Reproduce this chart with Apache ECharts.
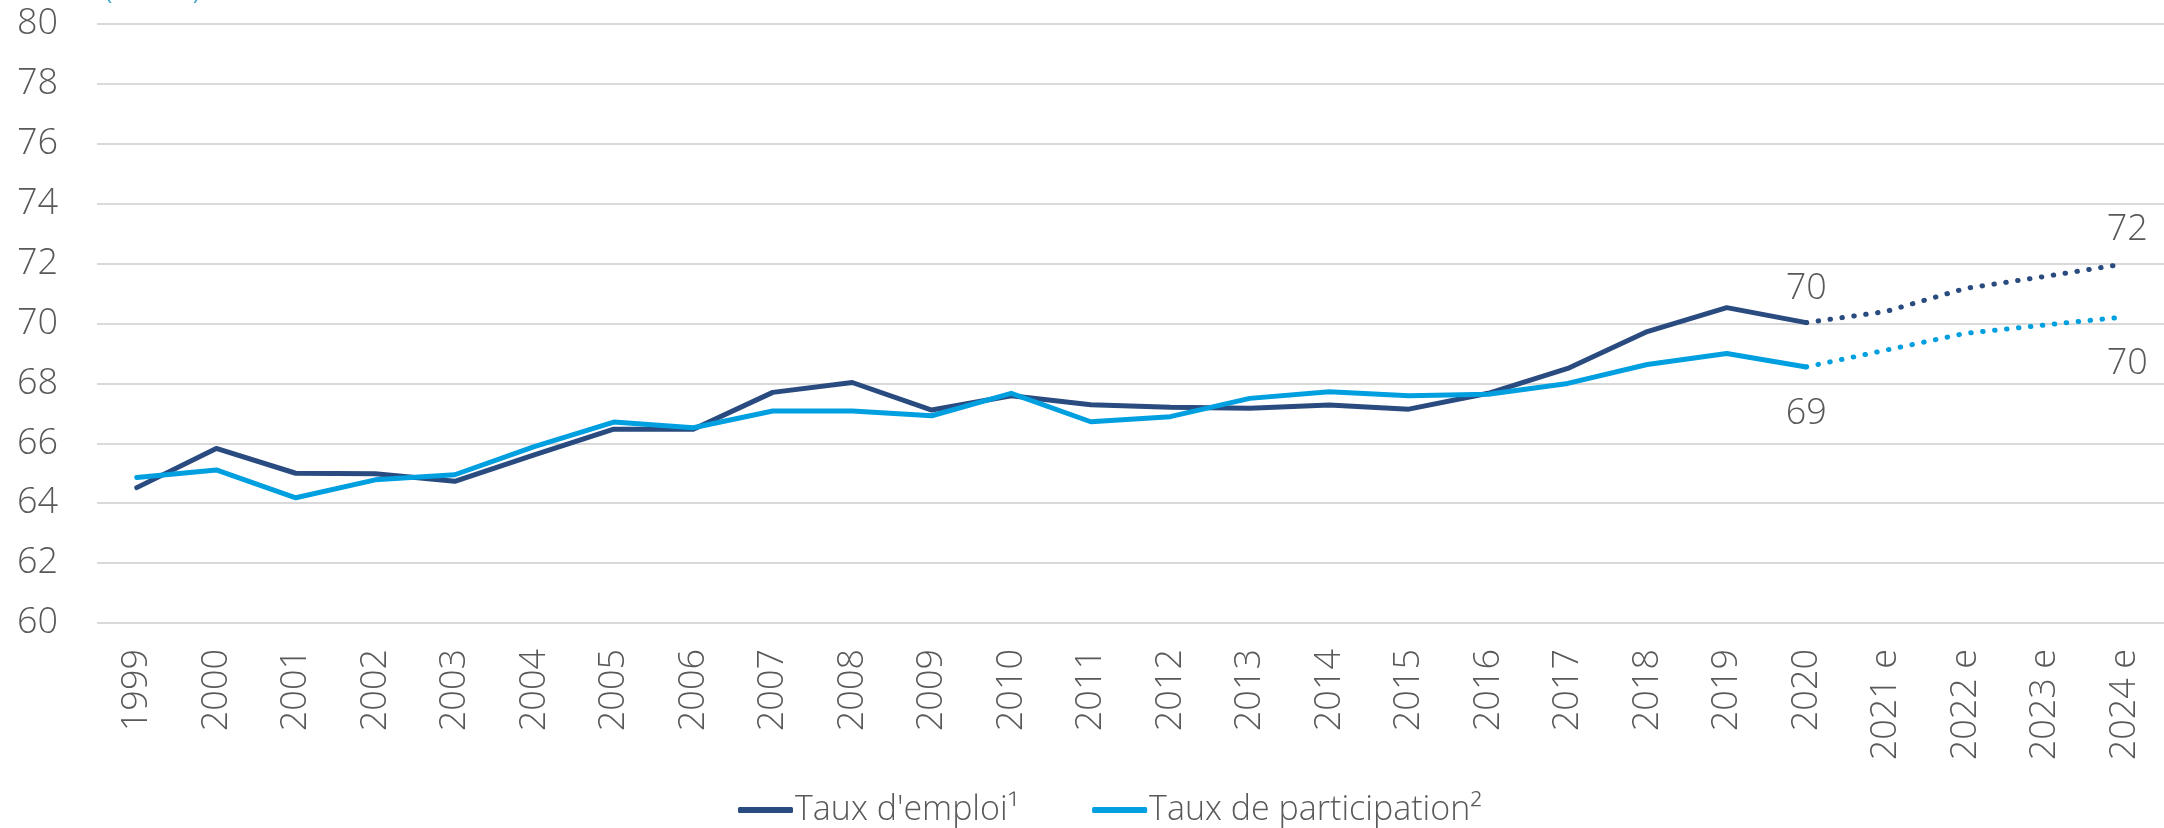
<!DOCTYPE html>
<html>
<head>
<meta charset="utf-8">
<title>Taux d'emploi et taux de participation</title>
<script src="https://cdn.jsdelivr.net/npm/echarts@6.0.0/dist/echarts.min.js"></script>
<style>
    html, body { margin: 0; padding: 0; background: #fff; }
    #chart { width: 2164px; height: 828px; }
</style>
</head>
<body>
<div id="chart"></div>
<script>
    // données
    var annees = ['1999', '2000', '2001', '2002', '2003', '2004', '2005', '2006', '2007', '2008',
        '2009', '2010', '2011', '2012', '2013', '2014', '2015', '2016', '2017', '2018',
        '2019', '2020', '2021 e', '2022 e', '2023 e', '2024 e'];
    var tauxEmploi = [64.52, 65.83, 65.0, 64.98, 64.73, 65.61, 66.47, 66.47, 67.7, 68.03,
        67.11, 67.59, 67.29, 67.2, 67.17, 67.28, 67.14, 67.67, 68.5, 69.73,
        70.53, 70.03];
    var tauxParticipation = [64.86, 65.11, 64.18, 64.78, 64.95, 65.89, 66.71, 66.52, 67.08, 67.08,
        66.92, 67.67, 66.72, 66.89, 67.5, 67.72, 67.59, 67.64, 68.0, 68.63,
        69.0, 68.55];
    // estimations 2020 -> 2024 e
    var tauxEmploiPrev = [70.03, 70.4, 71.17, 71.57, 71.99];
    var tauxParticipationPrev = [68.55, 69.11, 69.67, 69.95, 70.22];
    var ticksY = [60, 80, 2];

    var couleurEmploi = '#2a4b7f';
    var couleurParticipation = '#009fe0';
    var gris = '#595959';
    var police = '"Open Sans", "Segoe UI", sans-serif';

    function fnHistorique(arr) {
        var data = arr.slice();
        while (data.length < annees.length) {
            data.push(null);
        }
        return data;
    }

    // série pointillée, étiquettes sur le premier et le dernier point
    function fnPrevision(arr, position, distance) {
        var data = [];
        var debut = annees.length - arr.length;
        for (var i = 0; i < debut; i++) {
            data.push(null);
        }
        for (var j = 0; j < arr.length; j++) {
            var item = { value: arr[j] };
            if (j == 0 || j == arr.length - 1) {
                item.label = {
                    show: true,
                    position: position,
                    distance: distance,
                    offset: j == 0 ? [0, 0] : [3, 0],
                    fontFamily: police,
                    fontWeight: 300,
                    fontSize: 36,
                    color: gris,
                    formatter: function (p) { return Math.round(p.value); }
                };
            }
            data.push(item);
        }
        return data;
    }

    var myChart = echarts.init(document.getElementById('chart'), null, { renderer: 'canvas' });

    var option = {
        animation: false,
        backgroundColor: '#ffffff',
        textStyle: { fontFamily: police, fontWeight: 300 },
        graphic: [{
            type: 'text',
            x: 103,
            y: 5,
            style: {
                text: '(en %)',
                fontFamily: police,
                fontWeight: 300,
                fontSize: 36,
                fill: '#3aa6c4',
                verticalAlign: 'bottom'
            }
        }],
        grid: { left: 97, right: 0, top: 24, bottom: 205, containLabel: false },
        legend: {
            data: ["Taux d'emploi¹", 'Taux de participation²'],
            left: 733,
            top: 788,
            icon: 'roundRect',
            itemWidth: 55,
            itemHeight: 6,
            itemGap: 73,
            textStyle: { fontFamily: police, fontWeight: 300, fontSize: 34, color: gris, padding: [0, 0, 0, -3] }
        },
        xAxis: {
            type: 'category',
            data: annees,
            boundaryGap: true,
            axisLine: { show: false },
            axisTick: { show: false },
            axisLabel: {
                interval: 0,
                rotate: 90,
                margin: 26,
                fontFamily: police,
                fontWeight: 300,
                fontSize: 36,
                color: gris
            }
        },
        yAxis: {
            type: 'value',
            min: ticksY[0],
            max: ticksY[1],
            interval: ticksY[2],
            axisLine: { show: false },
            axisTick: { show: false },
            axisLabel: {
                margin: 39,
                fontFamily: police,
                fontWeight: 300,
                fontSize: 36,
                color: gris
            },
            splitLine: { lineStyle: { color: '#d9d9d9', width: 2 } }
        },
        series: [
            {
                name: "Taux d'emploi¹",
                type: 'line',
                data: fnHistorique(tauxEmploi),
                symbol: 'none',
                color: couleurEmploi,
                lineStyle: { width: 5, color: couleurEmploi, cap: 'round', join: 'round' }
            },
            {
                name: 'Taux de participation²',
                type: 'line',
                data: fnHistorique(tauxParticipation),
                symbol: 'none',
                color: couleurParticipation,
                lineStyle: { width: 5, color: couleurParticipation, cap: 'round', join: 'round' }
            },
            {
                name: 'emploi_e',
                type: 'line',
                data: fnPrevision(tauxEmploiPrev, 'top', 16),
                symbol: 'circle',
                symbolSize: 0,
                showSymbol: true,
                color: couleurEmploi,
                lineStyle: { width: 5, color: couleurEmploi, type: [0.5, 11.5], cap: 'round' }
            },
            {
                name: 'participation_e',
                type: 'line',
                data: fnPrevision(tauxParticipationPrev, 'bottom', 29),
                symbol: 'circle',
                symbolSize: 0,
                showSymbol: true,
                color: couleurParticipation,
                lineStyle: { width: 5, color: couleurParticipation, type: [0.5, 11.5], cap: 'round' }
            }
        ]
    };
    myChart.setOption(option);
</script>
</body>
</html>
